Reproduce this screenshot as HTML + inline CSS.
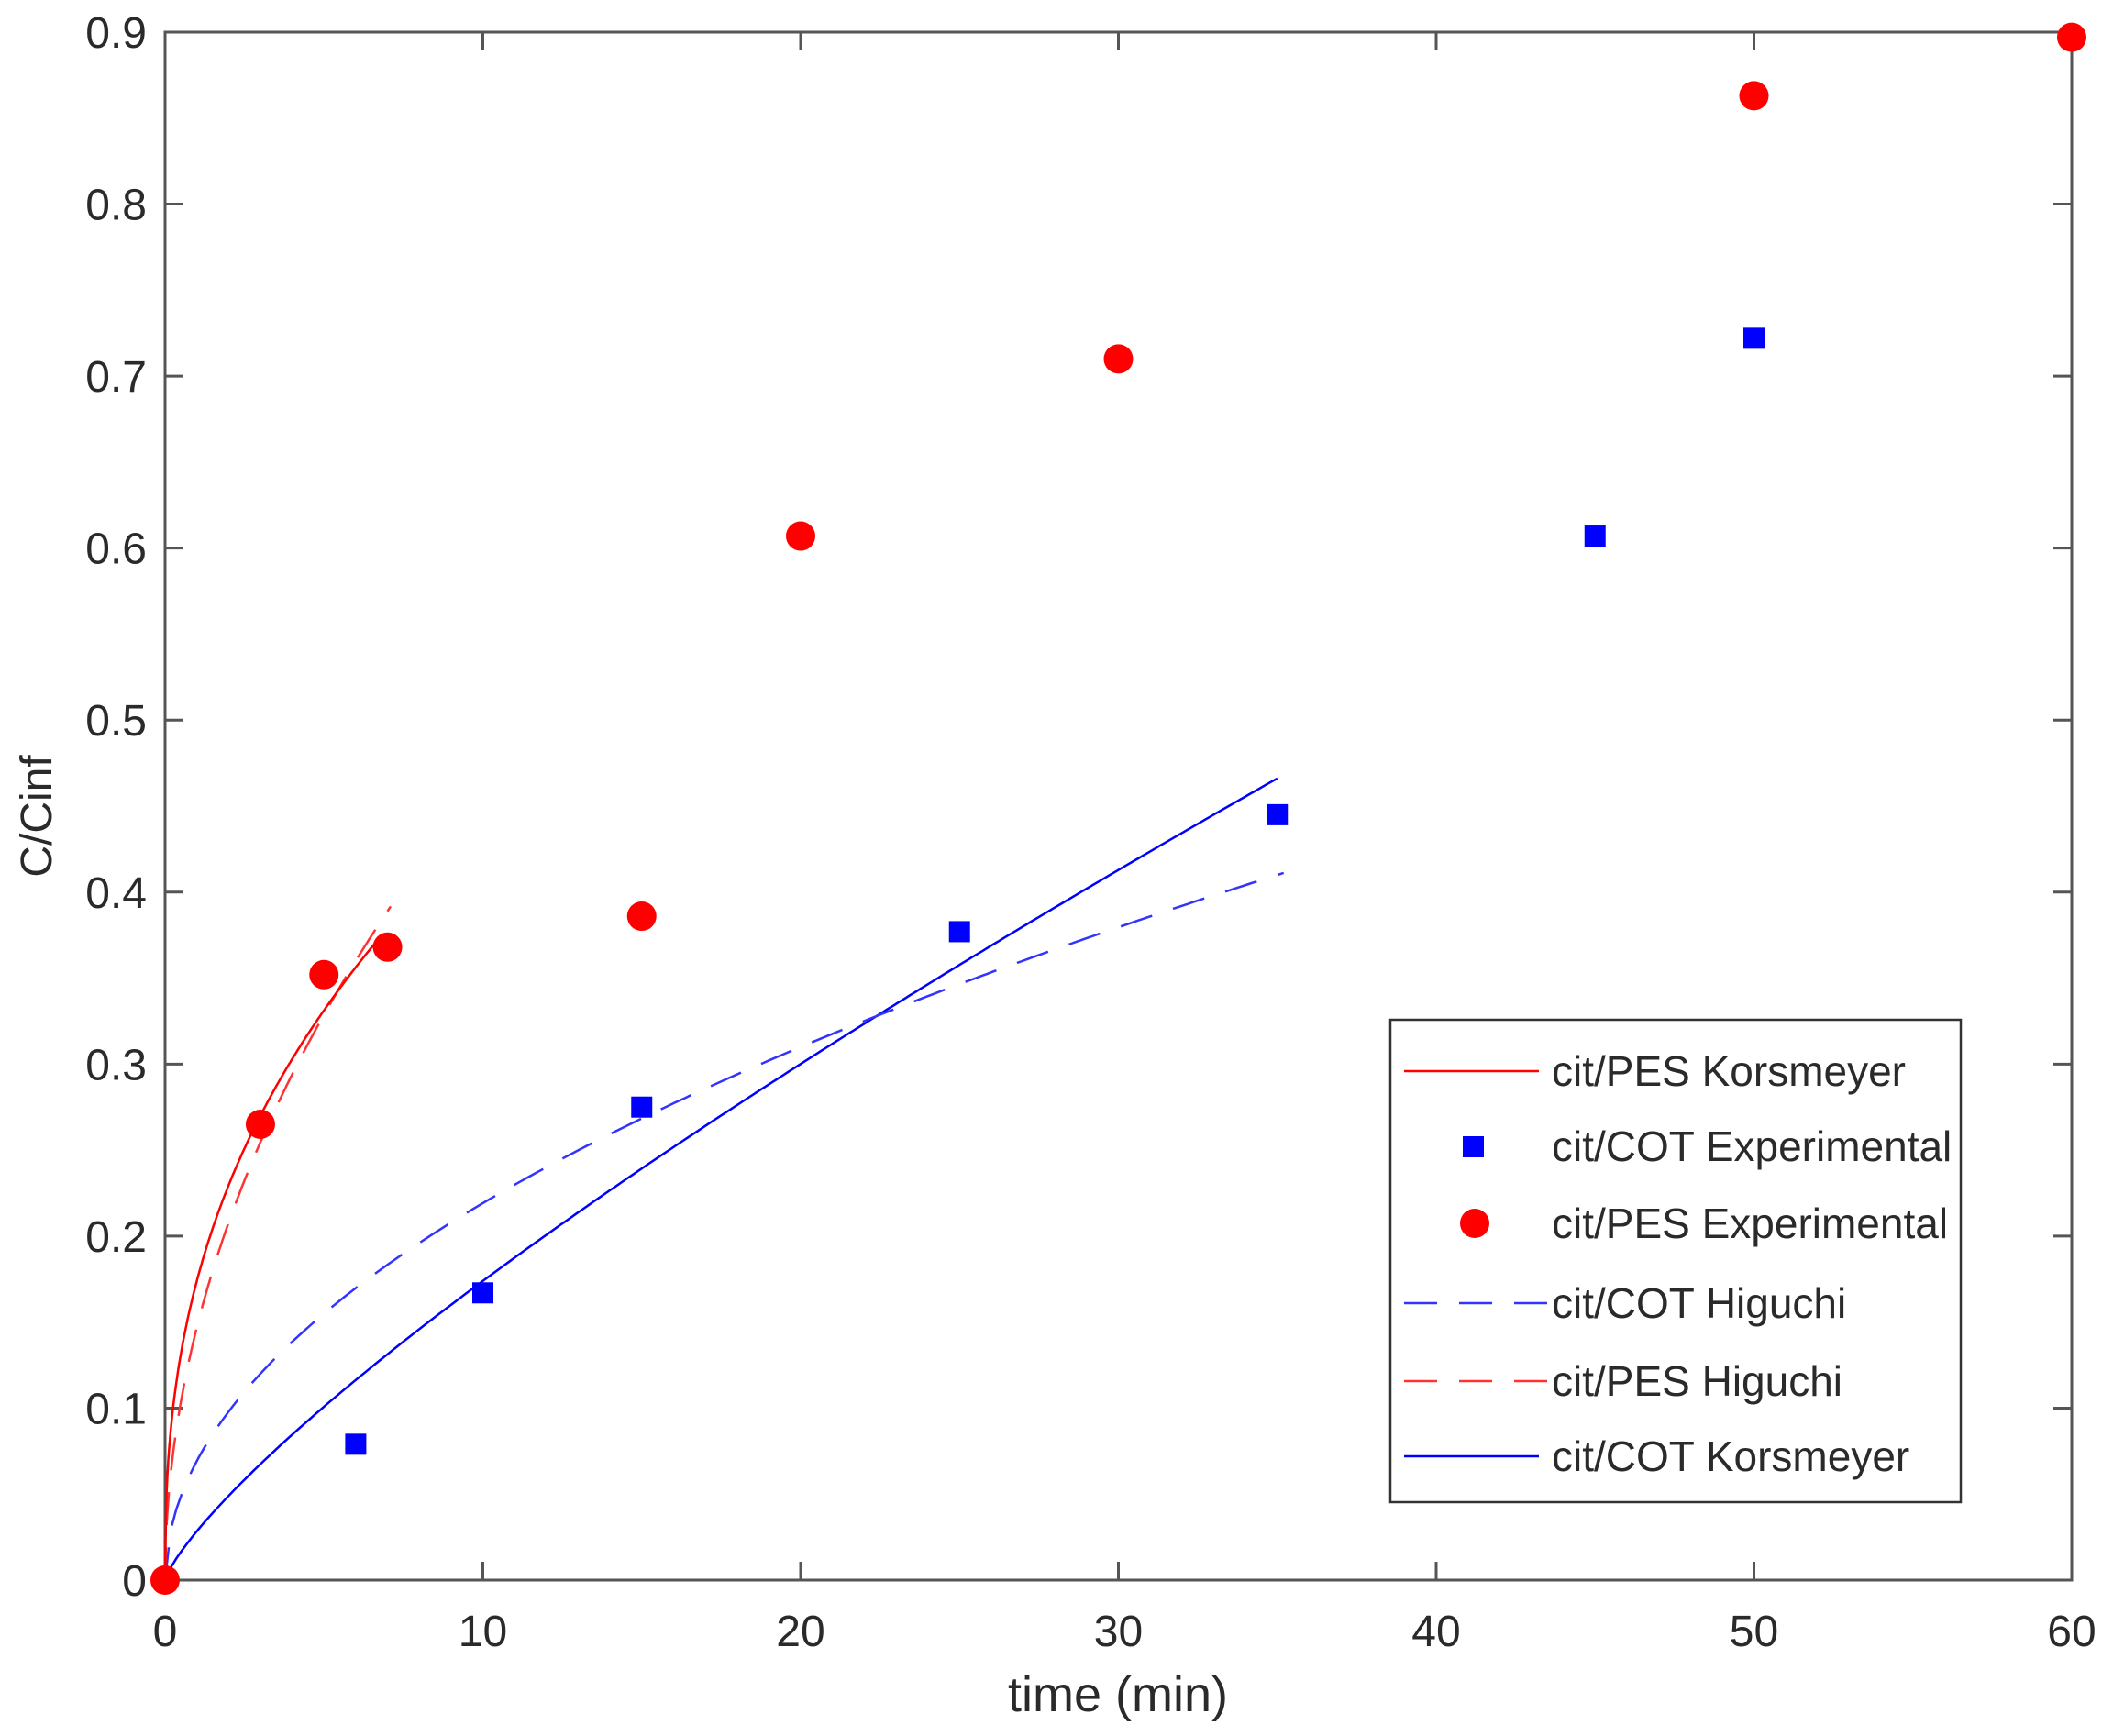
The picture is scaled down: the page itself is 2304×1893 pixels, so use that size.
<!DOCTYPE html>
<html><head><meta charset="utf-8"><style>
html,body{margin:0;padding:0;background:#fff;}
svg{display:block;}
text{font-family:"Liberation Sans",sans-serif;fill:#2a2a2a;}
</style></head><body>
<svg id="s" width="2304" height="1893" viewBox="0 0 2304 1893" xmlns="http://www.w3.org/2000/svg">
<rect width="2304" height="1893" fill="#fff"/>
<g id="ax"></g>
<g id="cv"></g>
<g id="mk"></g>
<rect x="1516" y="1112" width="622" height="526" fill="#fff" stroke="#333" stroke-width="2.5"/>
<line x1="1531" y1="1168" x2="1678" y2="1168" stroke="#f00" stroke-width="2.5"/>
<rect x="1595" y="1239" width="23" height="23" fill="#00f"/>
<circle cx="1608" cy="1334" r="16" fill="#f00"/>
<line x1="1531" y1="1421" x2="1691" y2="1421" stroke="#33f" stroke-width="2.5" stroke-dasharray="36,24"/>
<line x1="1531" y1="1506" x2="1691" y2="1506" stroke="#f33" stroke-width="2.5" stroke-dasharray="36,24"/>
<line x1="1531" y1="1588" x2="1678" y2="1588" stroke="#00f" stroke-width="2.5"/>
<g font-size="46">
<text x="1692" y="1184">cit/PES Korsmeyer</text>
<text x="1692" y="1266">cit/COT Experimental</text>
<text x="1692" y="1350">cit/PES Experimental</text>
<text x="1692" y="1437">cit/COT Higuchi</text>
<text x="1692" y="1522">cit/PES Higuchi</text>
<text x="1692" y="1604">cit/COT Korsmeyer</text>
</g>
<text x="1219" y="1866" font-size="54" text-anchor="middle">time (min)</text>
<text transform="translate(56,890) rotate(-90)" font-size="48" text-anchor="middle">C/Cinf</text>
</svg>
<script>
var L=180,R=2259,T=35,B=1723;
function X(t){return L+(R-L)*t/60;}
function Y(v){return B-(B-T)*v/0.9;}
var ns="http://www.w3.org/2000/svg";
function el(p,n,a,txt){var e=document.createElementNS(ns,n);for(var k in a)e.setAttribute(k,a[k]);if(txt!=null)e.textContent=txt;document.getElementById(p).appendChild(e);return e;}
el("ax","rect",{x:L,y:T,width:R-L,height:B-T,fill:"none",stroke:"#555","stroke-width":3});
for(var i=0;i<=6;i++){var x=X(i*10);
el("ax","line",{x1:x,y1:B,x2:x,y2:B-20,stroke:"#555","stroke-width":3});
el("ax","line",{x1:x,y1:T,x2:x,y2:T+20,stroke:"#555","stroke-width":3});
el("ax","text",{x:x,y:1795,"font-size":48,"text-anchor":"middle"},String(i*10));}
for(var j=0;j<=9;j++){var y=Y(j/10);
el("ax","line",{x1:L,y1:y,x2:L+20,y2:y,stroke:"#555","stroke-width":3});
el("ax","line",{x1:R,y1:y,x2:R-20,y2:y,stroke:"#555","stroke-width":3});
el("ax","text",{x:160,y:y+17,"font-size":48,"text-anchor":"end"},j==0?"0":(j/10).toFixed(1));}
function curve(f,t1,col,dash){var d="";for(var k=0;k<=200;k++){var t=t1*k/200;d+=(k?"L":"M")+X(t).toFixed(1)+","+Y(f(t)).toFixed(1);}
var a={d:d,fill:"none",stroke:col,"stroke-width":2.5};if(dash)a["stroke-dasharray"]=dash;el("cv","path",a);}
curve(function(t){return 0.0284*Math.pow(t,0.787);},35,"#00f");
curve(function(t){return 0.0693*Math.sqrt(t);},35.2,"#33f","36,24");
curve(function(t){return 0.147*Math.sqrt(t);},7.1,"#f33","36,24");
curve(function(t){return 0.174*Math.pow(t,0.4);},6.8,"#f00");
[[6,0.079],[10,0.167],[15,0.275],[25,0.377],[35,0.445],[45,0.607],[50,0.722]].forEach(function(p){el("mk","rect",{x:X(p[0])-11.5,y:Y(p[1])-11.5,width:23,height:23,fill:"#00f"});});
[[0,0],[3,0.265],[5,0.352],[7,0.368],[15,0.386],[20,0.607],[30,0.71],[50,0.863],[60,0.897]].forEach(function(p){el("mk","circle",{cx:X(p[0]),cy:Y(p[1]),r:16,fill:"#f00"});});
</script>
</body></html>
